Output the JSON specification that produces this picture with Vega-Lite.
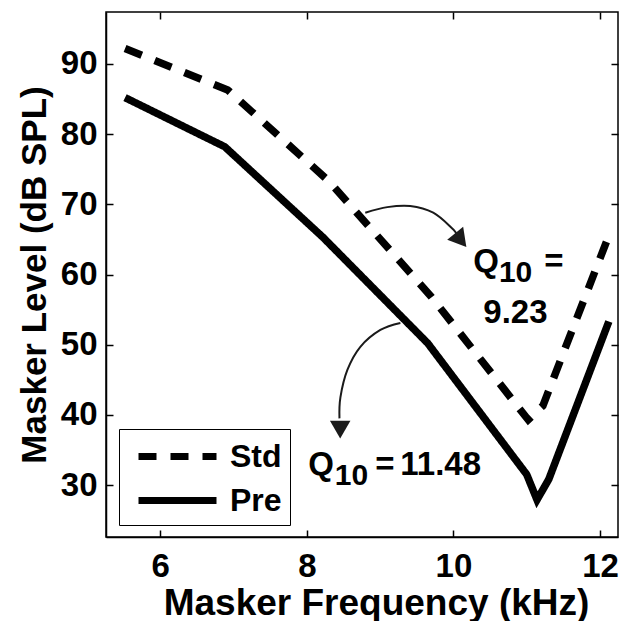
{
  "$schema": "https://vega.github.io/schema/vega-lite/v6.json",
  "width": 512,
  "height": 525,
  "autosize": "none",
  "padding": {"left": 106, "top": 12, "right": 3, "bottom": 84},
  "background": "white",
  "config": {
    "font": "Liberation Sans",
    "view": {"stroke": "black", "strokeWidth": 1.5},
    "axis": {
      "grid": false,
      "domainColor": "black",
      "domainWidth": 1.5,
      "tickColor": "black",
      "tickWidth": 1.5,
      "tickSize": -7,
      "labelFont": "Liberation Sans",
      "labelFontWeight": "bold",
      "labelFontSize": 33,
      "labelColor": "black",
      "titleFont": "Liberation Sans",
      "titleFontWeight": "bold",
      "titleColor": "black"
    }
  },
  "datasets": {
    "curves": [
      {"freq": 5.52, "level": 92.2, "series": "Std"},
      {"freq": 6.92, "level": 86.3, "series": "Std"},
      {"freq": 8.3, "level": 73.3, "series": "Std"},
      {"freq": 9.7, "level": 56.8, "series": "Std"},
      {"freq": 11.02, "level": 39.3, "series": "Std"},
      {"freq": 11.22, "level": 41.3, "series": "Std"},
      {"freq": 12.1, "level": 65.0, "series": "Std"},
      {"freq": 5.52, "level": 85.2, "series": "Pre"},
      {"freq": 6.88, "level": 78.2, "series": "Pre"},
      {"freq": 8.22, "level": 65.3, "series": "Pre"},
      {"freq": 9.65, "level": 50.2, "series": "Pre"},
      {"freq": 11.0, "level": 31.5, "series": "Pre"},
      {"freq": 11.14, "level": 27.9, "series": "Pre"},
      {"freq": 11.3, "level": 30.8, "series": "Pre"},
      {"freq": 12.12, "level": 53.3, "series": "Pre"}
    ],
    "arrows": [
      {"arrow": "a", "idx": 1, "x": 8.797, "y": 68.8},
      {"arrow": "a", "idx": 2, "x": 9.097, "y": 69.6},
      {"arrow": "a", "idx": 3, "x": 9.41, "y": 69.76},
      {"arrow": "a", "idx": 4, "x": 9.724, "y": 68.8},
      {"arrow": "a", "idx": 5, "x": 9.98, "y": 66.6},
      {"arrow": "a", "idx": 6, "x": 10.04, "y": 65.8},
      {"arrow": "b", "idx": 1, "x": 9.276, "y": 53.1},
      {"arrow": "b", "idx": 2, "x": 9.003, "y": 52.1},
      {"arrow": "b", "idx": 3, "x": 8.73, "y": 49.7},
      {"arrow": "b", "idx": 4, "x": 8.553, "y": 46.4},
      {"arrow": "b", "idx": 5, "x": 8.458, "y": 42.5},
      {"arrow": "b", "idx": 6, "x": 8.445, "y": 39.5}
    ],
    "heads": [
      {"arrow": "a", "x": 10.1, "y": 64.9},
      {"arrow": "b", "x": 8.455, "y": 37.9}
    ],
    "labels": [
      {"x": 10.271, "y": 60.36, "text": "Q", "role": "main"},
      {"x": 10.62, "y": 58.93, "text": "10", "role": "sub"},
      {"x": 11.24, "y": 60.36, "text": "=", "role": "main"},
      {"x": 10.407, "y": 53.09, "text": "9.23", "role": "main"},
      {"x": 8.02, "y": 31.43, "text": "Q", "role": "main"},
      {"x": 8.38, "y": 30.0, "text": "10", "role": "sub"},
      {"x": 8.934, "y": 31.43, "text": "=", "role": "main"},
      {"x": 9.275, "y": 31.43, "text": "11.48", "role": "main"}
    ]
  },
  "layer": [
    {
      "data": {"name": "curves"},
      "mark": {"type": "line", "strokeWidth": 7.5, "color": "black", "strokeCap": "butt", "strokeJoin": "miter"},
      "encoding": {
        "x": {
          "field": "freq", "type": "quantitative",
          "scale": {"domain": [5.26, 12.245], "nice": false, "zero": false},
          "axis": {"values": [6, 8, 10, 12], "title": "Masker Frequency (kHz)", "titleFontSize": 37, "labelPadding": 20, "titlePadding": 2, "titleX": 270}
        },
        "y": {
          "field": "level", "type": "quantitative",
          "scale": {"domain": [22.6, 97.4], "nice": false, "zero": false},
          "axis": {"values": [30, 40, 50, 60, 70, 80, 90], "title": "Masker Level (dB SPL)", "titleFontSize": 35, "labelPadding": 16, "titlePadding": 8}
        },
        "strokeDash": {
          "field": "series", "type": "nominal",
          "scale": {"domain": ["Std", "Pre"], "range": [[18, 14], [1, 0]]},
          "legend": {
            "title": null, "orient": "none", "legendX": 13, "legendY": 417,
            "strokeColor": "black", "fillColor": "white", "padding": 8,
            "symbolType": "M-0.5,0H4.375", "symbolSize": 1024, "symbolStrokeWidth": 7,
            "symbolStrokeColor": "black",
            "labelFont": "Liberation Sans", "labelFontWeight": "bold", "labelFontSize": 32,
            "labelColor": "black", "labelOffset": 64, "rowPadding": 8
          }
        }
      }
    },
    {
      "data": {"name": "curves"},
      "mark": {"type": "point", "opacity": 0},
      "encoding": {
        "x": {"field": "freq", "type": "quantitative", "axis": {"orient": "top", "values": [6, 8, 10, 12], "labels": false, "title": null, "domain": false}},
        "y": {"field": "level", "type": "quantitative", "axis": {"orient": "right", "values": [30, 40, 50, 60, 70, 80, 90], "labels": false, "title": null, "domain": false}}
      }
    },
    {
      "data": {"name": "arrows"},
      "mark": {"type": "line", "strokeWidth": 2, "color": "#1a1a1a", "interpolate": "cardinal"},
      "encoding": {
        "x": {"field": "x", "type": "quantitative", "axis": null},
        "y": {"field": "y", "type": "quantitative", "axis": null},
        "detail": {"field": "arrow"},
        "order": {"field": "idx"}
      }
    },
    {
      "data": {"name": "heads"},
      "transform": [{"filter": "datum.arrow === 'a'"}],
      "mark": {"type": "point", "shape": "triangle-down", "filled": true, "color": "#1a1a1a", "opacity": 1, "size": 420, "angle": 321},
      "encoding": {
        "x": {"field": "x", "type": "quantitative", "axis": null},
        "y": {"field": "y", "type": "quantitative", "axis": null}
      }
    },
    {
      "data": {"name": "heads"},
      "transform": [{"filter": "datum.arrow === 'b'"}],
      "mark": {"type": "point", "shape": "triangle-down", "filled": true, "color": "#1a1a1a", "opacity": 1, "size": 420, "angle": 0},
      "encoding": {
        "x": {"field": "x", "type": "quantitative", "axis": null},
        "y": {"field": "y", "type": "quantitative", "axis": null}
      }
    },
    {
      "data": {"name": "labels"},
      "transform": [{"filter": "datum.role === 'main'"}],
      "mark": {"type": "text", "align": "left", "baseline": "alphabetic", "font": "Liberation Sans", "fontWeight": "bold", "fontSize": 33, "color": "black"},
      "encoding": {
        "x": {"field": "x", "type": "quantitative", "axis": null},
        "y": {"field": "y", "type": "quantitative", "axis": null},
        "text": {"field": "text"}
      }
    },
    {
      "data": {"name": "labels"},
      "transform": [{"filter": "datum.role === 'sub'"}],
      "mark": {"type": "text", "align": "left", "baseline": "alphabetic", "font": "Liberation Sans", "fontWeight": "bold", "fontSize": 30, "color": "black"},
      "encoding": {
        "x": {"field": "x", "type": "quantitative", "axis": null},
        "y": {"field": "y", "type": "quantitative", "axis": null},
        "text": {"field": "text"}
      }
    }
  ],
  "resolve": {"axis": {"x": "independent", "y": "independent"}}
}
